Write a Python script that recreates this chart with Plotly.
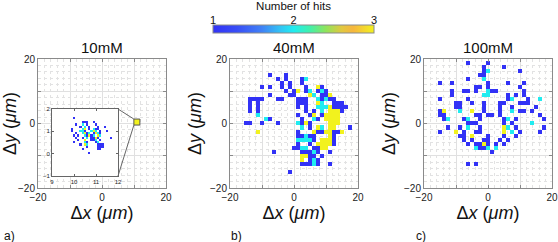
import numpy as np
import plotly.graph_objects as go

# ---------------- data ----------------
conditions = ["10mM", "40mM", "100mM"]
panel_letters = ["a)", "b)", "c)"]
bin_um = 1.25                      # main-panel bin width (µm)
bin_idx = list(range(-16, 17))     # bin indices along x and y

# (x-bin, y-bin, number of hits) for 40 mM
cells_40mM = [
    (-6, 12, 1), (-2, 12, 1),
    (-4, 11, 1), (-2, 11, 1), (2, 11, 1), (3, 11, 2),
    (-3, 10, 1), (-1, 10, 1), (2, 10, 1),
    (-8, 9, 1), (-6, 9, 1), (-3, 9, 1), (-1, 9, 1), (3, 9, 1), (6, 9, 3), (7, 9, 1),
    (-2, 8, 1), (0, 8, 1), (1, 8, 3), (3, 8, 1), (4, 8, 2), (6, 8, 1), (7, 8, 2), (8, 8, 1),
    (-6, 7, 1), (-1, 7, 1), (0, 7, 1), (4, 7, 3), (5, 7, 2), (7, 7, 1), (8, 7, 1), (9, 7, 3),
    (-11, 6, 1), (-10, 6, 1), (-9, 6, 1), (-8, 6, 1), (-4, 6, 1), (-3, 6, 1), (1, 6, 1), (2, 6, 1),
    (3, 6, 1), (6, 6, 2), (7, 6, 1), (8, 6, 2), (9, 6, 1), (10, 6, 1),
    (-11, 5, 1), (-9, 5, 1), (1, 5, 1), (2, 5, 1), (3, 5, 1), (6, 5, 3), (7, 5, 2), (10, 5, 1),
    (11, 5, 1), (12, 5, 1),
    (-11, 4, 1), (-9, 4, 1), (1, 4, 1), (3, 4, 1), (6, 4, 2), (7, 4, 2), (8, 4, 2), (9, 4, 3),
    (10, 4, 1), (11, 4, 1), (12, 4, 1), (13, 4, 1),
    (-11, 3, 1), (-9, 3, 1), (3, 3, 1), (5, 3, 1), (7, 3, 2), (9, 3, 3), (10, 3, 3), (11, 3, 3), (12, 3, 1),
    (-9, 2, 2), (1, 2, 1), (4, 2, 1), (5, 2, 3), (7, 2, 1), (8, 2, 3), (9, 2, 3), (10, 2, 3), (11, 2, 3),
    (-7, 1, 2), (-6, 1, 1), (2, 1, 1), (5, 1, 2), (6, 1, 1), (8, 1, 3), (9, 1, 3), (10, 1, 3), (11, 1, 3),
    (-12, 0, 1), (-11, 0, 1), (-8, 0, 1), (-4, 0, 1), (1, 0, 2), (2, 0, 1), (3, 0, 3), (4, 0, 1),
    (9, 0, 3), (10, 0, 3), (11, 0, 3),
    (2, -1, 2), (4, -1, 1), (6, -1, 3), (7, -1, 2), (9, -1, 3), (10, -1, 3), (14, -1, 1),
    (-9, -2, 3), (1, -2, 1), (5, -2, 3), (6, -2, 1), (7, -2, 1), (8, -2, 3), (9, -2, 3), (10, -2, 1),
    (11, -2, 1), (12, -2, 3),
    (1, -3, 1), (2, -3, 1), (3, -3, 2), (4, -3, 1), (5, -3, 1), (9, -3, 3), (10, -3, 1),
    (1, -4, 2), (2, -4, 2), (3, -4, 2), (4, -4, 2), (5, -4, 1), (7, -4, 3), (8, -4, 3), (9, -4, 3), (10, -4, 1),
    (1, -5, 1), (4, -5, 1), (6, -5, 3), (7, -5, 3), (8, -5, 3), (9, -5, 3), (10, -5, 1),
    (0, -6, 1), (1, -6, 1), (2, -6, 2), (3, -6, 2), (5, -6, 1), (6, -6, 1), (7, -6, 3), (8, -6, 3),
    (-5, -7, 1), (2, -7, 1), (3, -7, 1), (4, -7, 1), (5, -7, 2), (6, -7, 1), (9, -7, 1),
    (2, -8, 3), (3, -8, 3), (4, -8, 1), (5, -8, 1), (7, -8, 1),
    (2, -9, 3), (4, -9, 1), (5, -9, 2), (6, -9, 1),
    (2, -10, 1), (3, -10, 1), (4, -10, 1), (5, -10, 2), (6, -10, 1), (9, -10, 1),
    (-1, -12, 1),
]

# (x-bin, y-bin, number of hits) for 100 mM
cells_100mM = [
    (-5, 15, 1), (0, 15, 1),
    (-1, 14, 1), (4, 14, 1),
    (-1, 13, 1), (0, 13, 2), (8, 13, 1),
    (-2, 12, 1), (-1, 12, 1),
    (-5, 11, 1), (-1, 11, 2),
    (-12, 10, 1), (-9, 10, 1), (0, 10, 1), (5, 10, 1), (9, 10, 1),
    (-3, 9, 1), (-2, 9, 1), (0, 9, 1), (8, 9, 1),
    (-9, 8, 1), (-6, 8, 1), (-5, 8, 1), (-3, 8, 1), (0, 8, 2), (1, 8, 1), (2, 8, 1), (9, 8, 1),
    (-9, 7, 1), (-1, 7, 2), (0, 7, 2), (5, 7, 1), (7, 7, 1), (9, 7, 1),
    (-12, 6, 1), (-5, 6, 1), (5, 6, 1), (6, 6, 2), (10, 6, 1), (13, 6, 2),
    (-8, 5, 1), (-7, 5, 1), (-4, 5, 1), (-1, 5, 1), (3, 5, 1), (4, 5, 1), (8, 5, 1), (9, 5, 1), (10, 5, 1),
    (-8, 4, 1), (-7, 4, 1), (-1, 4, 1), (3, 4, 1), (6, 4, 1), (12, 4, 1),
    (-12, 3, 1), (-11, 3, 3), (-7, 3, 2), (-4, 3, 3), (-1, 3, 1), (3, 3, 1), (6, 3, 2), (8, 3, 1),
    (9, 3, 1), (11, 3, 1),
    (-12, 2, 1), (-11, 2, 1), (-3, 2, 1), (-2, 2, 1), (0, 2, 1), (1, 2, 1), (3, 2, 1), (13, 2, 1),
    (-11, 1, 1), (-10, 1, 2), (-6, 1, 1), (-5, 1, 2), (-2, 1, 1), (4, 1, 1), (5, 1, 2), (7, 1, 1), (14, 1, 1),
    (-5, 0, 1), (-4, 0, 1), (-3, 0, 1), (4, 0, 1), (6, 0, 1), (11, 0, 2),
    (-10, -1, 1), (-7, -1, 1), (-5, -1, 2), (-2, -1, 1), (4, -1, 3), (5, -1, 2), (7, -1, 1), (14, -1, 1),
    (-12, -2, 1), (-8, -2, 3), (-6, -2, 1), (-3, -2, 1), (-2, -2, 1), (4, -2, 3), (6, -2, 2), (8, -2, 1),
    (13, -2, 1),
    (-7, -3, 1), (-6, -3, 1), (-4, -3, 3), (0, -3, 1), (4, -3, 1), (7, -3, 1),
    (-6, -4, 1), (-4, -4, 1), (-1, -4, 1), (0, -4, 1), (3, -4, 1), (5, -4, 1),
    (-5, -5, 1), (-3, -5, 1), (-2, -5, 1), (-1, -5, 3), (0, -5, 1), (2, -5, 1), (4, -5, 1),
    (-3, -6, 2), (-2, -6, 1), (-1, -6, 1), (0, -6, 2), (2, -6, 2),
    (1, -7, 1),
    (-5, -10, 1), (-3, -10, 1),
]

# 10 mM: every hit falls inside one main-panel bin; the inset re-bins them at 0.1 µm
bin_inset_um = 0.1
cells_10mM_inset = [
    (10.0, 1.6, 1),
    (10.4, 1.4, 1), (10.5, 1.4, 1), (10.6, 1.4, 1), (10.9, 1.4, 1),
    (10.1, 1.3, 1), (10.4, 1.3, 2), (10.6, 1.3, 1), (11.0, 1.3, 1),
    (10.3, 1.2, 1), (10.5, 1.2, 2), (10.7, 1.2, 1), (11.1, 1.2, 1), (11.4, 1.2, 1),
    (9.9, 1.1, 1), (10.4, 1.1, 2), (10.5, 1.1, 3), (10.7, 1.1, 1), (10.9, 1.1, 2), (11.0, 1.1, 1), (11.1, 1.1, 1),
    (9.9, 1.0, 1), (10.3, 1.0, 2), (10.4, 1.0, 2), (10.5, 1.0, 1), (10.8, 1.0, 2), (10.9, 1.0, 3),
    (11.0, 1.0, 2), (11.2, 1.0, 1), (11.5, 1.0, 1),
    (10.1, 0.9, 1), (10.4, 0.9, 2), (10.5, 0.9, 3), (10.6, 0.9, 1), (10.7, 0.9, 2), (10.9, 0.9, 1),
    (11.0, 0.9, 3), (11.1, 0.9, 2), (11.2, 0.9, 1),
    (10.0, 0.8, 1), (10.2, 0.8, 1), (10.5, 0.8, 2), (10.6, 0.8, 1), (10.7, 0.8, 3), (10.8, 0.8, 1),
    (10.9, 0.8, 2), (11.1, 0.8, 3), (11.2, 0.8, 2),
    (10.1, 0.7, 1), (10.4, 0.7, 1), (10.6, 0.7, 2), (10.8, 0.7, 1), (10.9, 0.7, 1), (11.0, 0.7, 3),
    (11.1, 0.7, 1), (11.7, 0.7, 1),
    (10.2, 0.6, 1), (10.5, 0.6, 3), (10.8, 0.6, 1), (10.9, 0.6, 1), (11.0, 0.6, 2), (11.2, 0.6, 1),
    (10.0, 0.5, 1), (10.5, 0.5, 2), (10.6, 0.5, 1), (11.0, 0.5, 1), (11.1, 0.5, 2),
    (10.3, 0.4, 1), (10.5, 0.4, 3), (10.6, 0.4, 2), (11.1, 0.4, 1), (11.2, 0.4, 1), (11.3, 0.4, 1),
    (10.6, 0.3, 1), (11.1, 0.3, 1), (11.2, 0.3, 1), (11.3, 0.3, 1),
    (10.4, 0.2, 1), (11.1, 0.2, 1), (11.2, 0.2, 1),
    (10.7, 0.0, 1),
]
box_10mM_x = [10.9]
box_10mM_y = [0.45]
box_10mM_hits = [3]

axis_range = [-20, 20]
axis_ticks = [-20, -10, 0, 10, 20]
axis_ticktext = ["\u221220", "", "0", "", "20"]
inset_xrange = [9, 12]
inset_yrange = [-1, 2]
inset_xticks = [9, 10, 11, 12]
inset_yticks = [-1, 0, 1, 2]
inset_yticktext = ["\u22121", "0", "1", "2"]
hit_ticks = [1, 2, 3]

# ---------------- helpers ----------------
W, H = 558, 242


def px(v):
    return v / W


def py(v):
    return 1 - v / H


def main_grid(cells):
    n = len(bin_idx)
    z = [[None] * n for _ in range(n)]
    off = -bin_idx[0]
    for ix, iy, h in cells:
        z[iy + off][ix + off] = h
    centres = [k * bin_um for k in bin_idx]
    return centres, centres, z


def fine_grid(cells, step):
    ixs = [int(round(x / step)) for x, _, _ in cells]
    iys = [int(round(y / step)) for _, y, _ in cells]
    x0, x1 = min(ixs) - 1, max(ixs) + 1
    y0, y1 = min(iys) - 1, max(iys) + 1
    z = [[None] * (x1 - x0 + 1) for _ in range(y1 - y0 + 1)]
    for ix, iy, (_, _, h) in zip(ixs, iys, cells):
        z[iy - y0][ix - x0] = h
    xs = [i * step for i in range(x0, x1 + 1)]
    ys = [i * step for i in range(y0, y1 + 1)]
    return xs, ys, z


parula_like = [
    [0.00, "rgb(50,50,246)"], [0.15, "rgb(56,78,246)"], [0.30, "rgb(64,128,246)"],
    [0.42, "rgb(50,196,244)"], [0.50, "rgb(32,236,240)"], [0.60, "rgb(64,240,172)"],
    [0.70, "rgb(142,228,92)"], [0.80, "rgb(226,200,64)"], [0.87, "rgb(246,182,62)"],
    [0.94, "rgb(244,214,46)"], [1.00, "rgb(242,242,30)"],
]

FONT = "Liberation Sans"
FRAME = "#8a8a8a"

# panel pixel boxes (left, right, top, bottom)
boxes = [(38, 166, 59, 188), (230, 358, 59, 188), (424, 552, 59, 188)]
inset_box = (52, 118, 109, 176)
cbar_box = (213, 374, 25, 33)

fig = go.Figure()

# panel b and c heatmaps
for k, cells in ((2, cells_40mM), (3, cells_100mM)):
    xs, ys, z = main_grid(cells)
    fig.add_trace(go.Heatmap(x=xs, y=ys, z=z, coloraxis="coloraxis",
                             xaxis=f"x{k}", yaxis=f"y{k}", hoverongaps=False))

# panel a: the single occupied bin, drawn as a highlighted square
fig.add_trace(go.Scatter(
    x=box_10mM_x, y=box_10mM_y, mode="markers", xaxis="x", yaxis="y",
    marker=dict(symbol="square", size=6, color=box_10mM_hits, coloraxis="coloraxis",
                line=dict(color="#555555", width=1)),
    hoverinfo="skip"))

# inset heatmap
xs, ys, z = fine_grid(cells_10mM_inset, bin_inset_um)
fig.add_trace(go.Heatmap(x=xs, y=ys, z=z, coloraxis="coloraxis",
                         xaxis="x4", yaxis="y4", hoverongaps=False))

# invisible trace carrying the colour-bar label axis
fig.add_trace(go.Scatter(x=hit_ticks, y=[0] * len(hit_ticks), mode="markers",
                         marker=dict(opacity=0), xaxis="x5", yaxis="y5", hoverinfo="skip"))


def main_axis(domain, anchor, title):
    return dict(
        domain=domain, anchor=anchor, range=axis_range,
        tickmode="array", tickvals=axis_ticks, ticktext=axis_ticktext,
        ticks="inside", ticklen=3, tickcolor=FRAME, tickwidth=1,
        showline=True, linecolor=FRAME, linewidth=1, mirror="ticks",
        showgrid=True, gridcolor="#e0e0e0", gridwidth=1, zeroline=False,
        minor=dict(tick0=0, dtick=2, showgrid=True, gridcolor="#e2e2e2",
                   griddash="dot", gridwidth=1, ticks=""),
        tickfont=dict(size=10, color="#222", family=FONT),
        title=dict(text=title, font=dict(size=18, color="#111", family=FONT), standoff=3),
        fixedrange=True,
    )


xt = "\u0394<i>x</i> (<i>\u03bcm</i>)"
yt = "\u0394<i>y</i> (<i>\u03bcm</i>)"

layout = dict(
    width=W, height=H, margin=dict(l=0, r=0, t=0, b=0, autoexpand=False),
    paper_bgcolor="#ffffff", plot_bgcolor="#fffffe", showlegend=False,
    font=dict(family=FONT, color="#111"),
    coloraxis=dict(
        cmin=1, cmax=3, colorscale=parula_like,
        colorbar=dict(orientation="h", thickness=cbar_box[3] - cbar_box[2], thicknessmode="pixels",
                      len=(cbar_box[1] - cbar_box[0]) / W, lenmode="fraction",
                      x=px((cbar_box[0] + cbar_box[1]) / 2), xanchor="center",
                      y=py(cbar_box[2]), yanchor="top", ypad=0, xpad=0,
                      showticklabels=False, ticks="", outlinecolor=FRAME, outlinewidth=1),
    ),
)

for i, (l, r, t, b) in enumerate(boxes):
    sfx = "" if i == 0 else str(i + 1)
    layout[f"xaxis{sfx}"] = main_axis([px(l), px(r)], f"y{sfx}", xt)
    layout[f"yaxis{sfx}"] = main_axis([py(b), py(t)], f"x{sfx}", yt)

l, r, t, b = inset_box
inset_common = dict(ticks="inside", ticklen=2, tickcolor="#666", showline=True, linecolor="#666",
                    linewidth=1, mirror="ticks", showgrid=False, zeroline=False,
                    tickfont=dict(size=6, color="#222", family=FONT), fixedrange=True)
layout["xaxis4"] = dict(domain=[px(l), px(r)], anchor="y4", range=inset_xrange,
                        tickvals=inset_xticks, **inset_common)
layout["yaxis4"] = dict(domain=[py(b), py(t)], anchor="x4", range=inset_yrange,
                        tickvals=inset_yticks, ticktext=inset_yticktext, **inset_common)

l, r, t, b = cbar_box
layout["xaxis5"] = dict(domain=[px(l), px(r)], anchor="y5", range=[hit_ticks[0], hit_ticks[-1]],
                        side="top", tickvals=hit_ticks, ticks="", showline=False, showgrid=False,
                        zeroline=False, tickfont=dict(size=11, color="#111", family=FONT),
                        ticklabelstandoff=-2,
                        title=dict(text="Number of hits", font=dict(size=11.5, color="#111", family=FONT),
                                   standoff=3), fixedrange=True)
layout["yaxis5"] = dict(domain=[py(b), py(t)], anchor="x5", visible=False, fixedrange=True)

annotations = []
for (l, r, t, b), name in zip(boxes, conditions):
    annotations.append(dict(x=px((l + r) / 2), y=py(t), xref="paper", yref="paper", text=name,
                            showarrow=False, xanchor="center", yanchor="bottom", yshift=1,
                            font=dict(size=15, color="#111", family=FONT)))
for xl, letter in zip((2, 229, 414), panel_letters):
    annotations.append(dict(x=px(xl), y=py(236), xref="paper", yref="paper", text=letter,
                            showarrow=False, xanchor="left", yanchor="middle",
                            font=dict(size=12, color="#111", family=FONT)))
layout["annotations"] = annotations

# connector lines from the inset to the highlighted square in panel a
al, ar, at, ab = boxes[0]
sq_px = al + (box_10mM_x[0] - axis_range[0]) / (axis_range[1] - axis_range[0]) * (ar - al)
sq_py = ab - (box_10mM_y[0] - axis_range[0]) / (axis_range[1] - axis_range[0]) * (ab - at)
half = 3
il, ir, it, ib = inset_box
layout["shapes"] = [
    dict(type="line", xref="paper", yref="paper", x0=px(ir), y0=py(it),
         x1=px(sq_px - half), y1=py(sq_py - half), line=dict(color="#666", width=1), layer="above"),
    dict(type="line", xref="paper", yref="paper", x0=px(ir), y0=py(ib),
         x1=px(sq_px - half), y1=py(sq_py + half), line=dict(color="#666", width=1), layer="above"),
]

fig.update_layout(**layout)
fig.write_html("out.html", config={"displayModeBar": False},
               post_script="document.body.style.margin='0px';document.body.style.overflow='hidden';")
